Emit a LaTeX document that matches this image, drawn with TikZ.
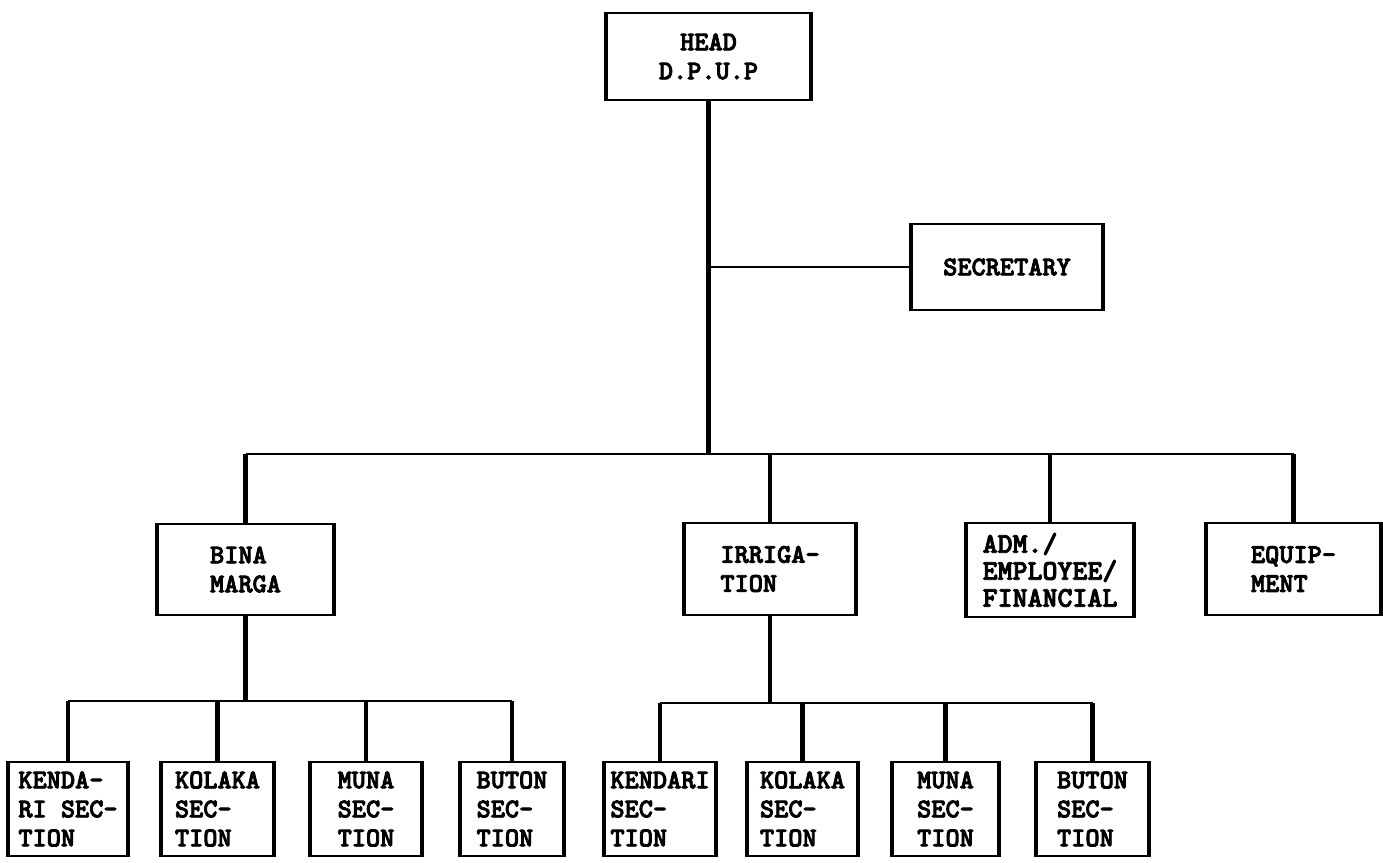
\documentclass[tikz,border=0pt]{standalone}
\usepackage{fontspec}
\newfontfamily\boxfont{lmmonolt10-bold.otf}[FakeBold=3]
\begin{document}
\begin{tikzpicture}[x=1pt,y=-1pt,
  box/.style={draw, line width=1.6pt, inner xsep=2pt, inner ysep=0pt,
    align=left, font=\boxfont\fontsize{27}{29}\selectfont},
  side/.style={line width=3.8pt},
  tie/.style={line width=2pt},
  drop/.style={line width=4.3pt}]
\useasboundingbox (0,0) rectangle (1383,862);
\clip (0,0) rectangle (1383,862);

% top level
\node[box, align=center, minimum width=203pt, minimum height=87pt] (head) at (708.5,56.5) {HEAD\\D.P.U.P};
\node[box, minimum width=190pt, minimum height=86pt] (sec) at (1007,267) {SECRETARY};

% departments
\node[box, minimum width=175pt, minimum height=91pt] (bina) at (245.5,569.5) {BINA\\MARGA};
\node[box, minimum width=170pt, minimum height=92pt] (irr) at (770,569) {IRRIGA-\\TION};
\node[box, minimum width=166pt, minimum height=94pt, font=\boxfont\fontsize{28.5}{27}\selectfont] (adm) at (1050,570) {ADM./\\EMPLOYEE/\\FINANCIAL};
\node[box, minimum width=173pt, minimum height=92pt] (equip) at (1293.5,569) {EQUIP-\\MENT};

% sections of Bina Marga
\node[box, minimum width=118pt, minimum height=94pt] (l1) at (68,809) {KENDA-\\RI SEC-\\TION};
\node[box, minimum width=111pt, minimum height=94pt] (l2) at (217.5,809) {KOLAKA\\SEC-\\TION};
\node[box, minimum width=110pt, minimum height=94pt] (l3) at (366,809) {MUNA\\SEC-\\TION};
\node[box, minimum width=102pt, minimum height=94pt] (l4) at (512,809) {BUTON\\SEC-\\TION};

% sections of Irrigation
\node[box, minimum width=110pt, minimum height=94pt] (r1) at (660,809) {KENDARI\\SEC-\\TION};
\node[box, minimum width=109pt, minimum height=94pt] (r2) at (802.5,809) {KOLAKA\\SEC-\\TION};
\node[box, minimum width=105pt, minimum height=94pt] (r3) at (945.5,809) {MUNA\\SEC-\\TION};
\node[box, minimum width=111pt, minimum height=94pt] (r4) at (1092.5,809) {BUTON\\SEC-\\TION};

% heavy vertical sides of every box
\foreach \n in {head,sec,bina,irr,adm,equip,l1,l2,l3,l4,r1,r2,r3,r4}
  \draw[side] (\n.north west) -- (\n.south west) (\n.north east) -- (\n.south east);

% bus levels
\coordinate (busy) at (0,454);
\coordinate (lbus) at (0,701);
\coordinate (rbus) at (0,703);

% trunk and secretary branch
\draw[line width=5pt] (head.south) -- (head.south |- busy);
\draw[tie] (head.south |- sec.west) -- (sec.west);

% main bus to departments
\draw[tie] (bina.north |- busy) -- (equip.north |- busy);
\foreach \n in {bina,irr,adm,equip}
  \draw[drop] (\n.north |- busy) -- (\n.north);

% Bina Marga sections
\draw[drop] (bina.south) -- (bina.south |- lbus);
\draw[tie] (l1.north |- lbus) -- (l4.north |- lbus);
\foreach \n in {l1,l2,l3,l4}
  \draw[drop] (\n.north |- lbus) -- (\n.north);

% Irrigation sections
\draw[drop] (irr.south) -- (irr.south |- rbus);
\draw[tie] (r1.north |- rbus) -- (r4.north |- rbus);
\foreach \n in {r1,r2,r3,r4}
  \draw[drop] (\n.north |- rbus) -- (\n.north);
\end{tikzpicture}
\end{document}
